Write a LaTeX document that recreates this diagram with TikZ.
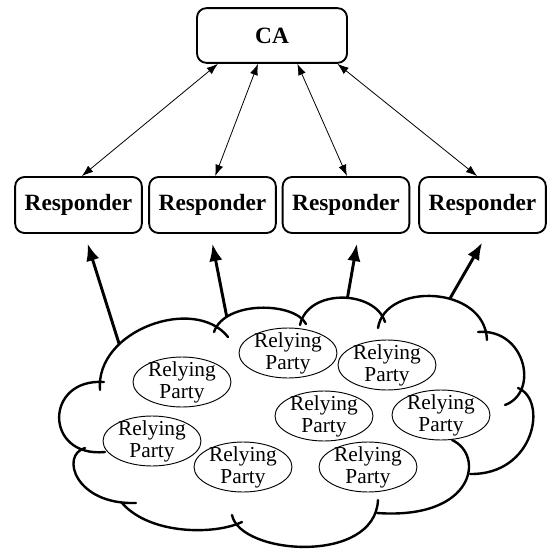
\documentclass[tikz,border=0pt]{standalone}
\usepackage{fontspec}
\setmainfont{Liberation Serif}
\usetikzlibrary{shapes.geometric,arrows.meta}

\tikzset{every picture/.style={line width=0.75pt}}
\tikzset{
  box/.style={draw, rounded corners=7pt, line width=1.4pt, minimum width=95pt, minimum height=42pt, inner sep=0pt, font=\fontsize{17.5}{20}\selectfont\bfseries},
  party/.style={draw, ellipse, line width=0.7pt, minimum width=73.5pt, minimum height=37.5pt, inner sep=0pt},
  partytext/.style={align=center, inner sep=0pt, font=\fontsize{16}{16.5}\selectfont},
  link/.style={line width=0.6pt, {Latex[length=8.5pt,width=6pt]}-{Latex[length=8.5pt,width=6pt]}},
  query/.style={line width=2.2pt, -{Latex[length=13pt,width=10pt]}, shorten >=7.5pt},
  cloud line/.style={line width=1.8pt, line cap=round}
}

\begin{document}
\begin{tikzpicture}[x=0.75pt,y=0.75pt,yscale=-1,xscale=1]
\useasboundingbox (0,0) rectangle (553,549); %set diagram to the size of the reference

%Shape: Rounded Rect CA
\node[box, minimum width=112.5pt, minimum height=41pt] (ca) at (272,35.5) {CA};
%Shape: Rounded Rect Responders
\node[box] (resp1) at (78.5,205) {Responder};
\node[box] (resp2) at (212.5,205) {Responder};
\node[box] (resp3) at (346,205) {Responder};
\node[box] (resp4) at (482.5,205) {Responder};

%Shape: Cloud (one curve per lobe)
\draw[cloud line] (104,382) .. controls (44,378) and (44,458) .. (105,452);
\draw[cloud line] (100,390) .. controls (95,330) and (195,295) .. coordinate[pos=0.3] (foot1) (228,337);
\draw[cloud line] (214,332) .. controls (225,300) and (295,302) .. coordinate[pos=0.2] (foot2) (306,324);
\draw[cloud line] (300,325) .. controls (308,288) and (375,290) .. coordinate[pos=0.55] (foot3) (385,322);
\draw[cloud line] (378,328) .. controls (385,282) and (485,285) .. coordinate[pos=0.6] (foot4) (487,340);
\draw[cloud line] (478,332) .. controls (525,328) and (540,392) .. (505,405);
\draw[cloud line] (518,388) .. controls (548,400) and (535,475) .. (470,474);
\draw[cloud line] (452,440) .. controls (485,455) and (475,520) .. (377,513);
\draw[cloud line] (378,500) .. controls (375,565) and (240,555) .. (232,515);
\draw[cloud line] (242,522) .. controls (215,535) and (150,535) .. (122,503);
\draw[cloud line] (85,448) .. controls (60,455) and (75,505) .. (136,503);

%Shape: Ellipse Relying Parties
\node[party, label={[partytext]center:Relying\\Party}] (rp1) at (288,353) {};
\node[party, label={[partytext]center:Relying\\Party}] (rp2) at (387,365) {};
\node[party, label={[partytext]center:Relying\\Party}] (rp3) at (182,382) {};
\node[party, label={[partytext]center:Relying\\Party}] (rp4) at (324,416) {};
\node[party, label={[partytext]center:Relying\\Party}] (rp5) at (441,415) {};
\node[party, label={[partytext]center:Relying\\Party}] (rp6) at (152,441) {};
\node[party, label={[partytext]center:Relying\\Party}] (rp7) at (243,467) {};
\node[party, label={[partytext]center:Relying\\Party}] (rp8) at (368,467) {};

%Straight Lines CA <-> Responders
\draw[link] ([xshift=-40.5pt]ca.south) -- ([xshift=2.5pt]resp1.north);
\draw[link] ([xshift=-10.5pt]ca.south) -- ([xshift=2pt]resp2.north);
\draw[link] ([xshift=19pt]ca.south) -- ([xshift=0.75pt]resp3.north);
\draw[link] ([xshift=49pt]ca.south) -- ([xshift=-4pt]resp4.north);

%Straight Lines cloud -> Responders
\draw[query] (foot1) -- ([xshift=4.5pt]resp1.south);
\draw[query] (foot2) -- ([xshift=-1.5pt]resp2.south);
\draw[query] (foot3) -- ([xshift=9.5pt]resp3.south);
\draw[query] (foot4) -- ([xshift=3.5pt]resp4.south);
\end{tikzpicture}
\end{document}
